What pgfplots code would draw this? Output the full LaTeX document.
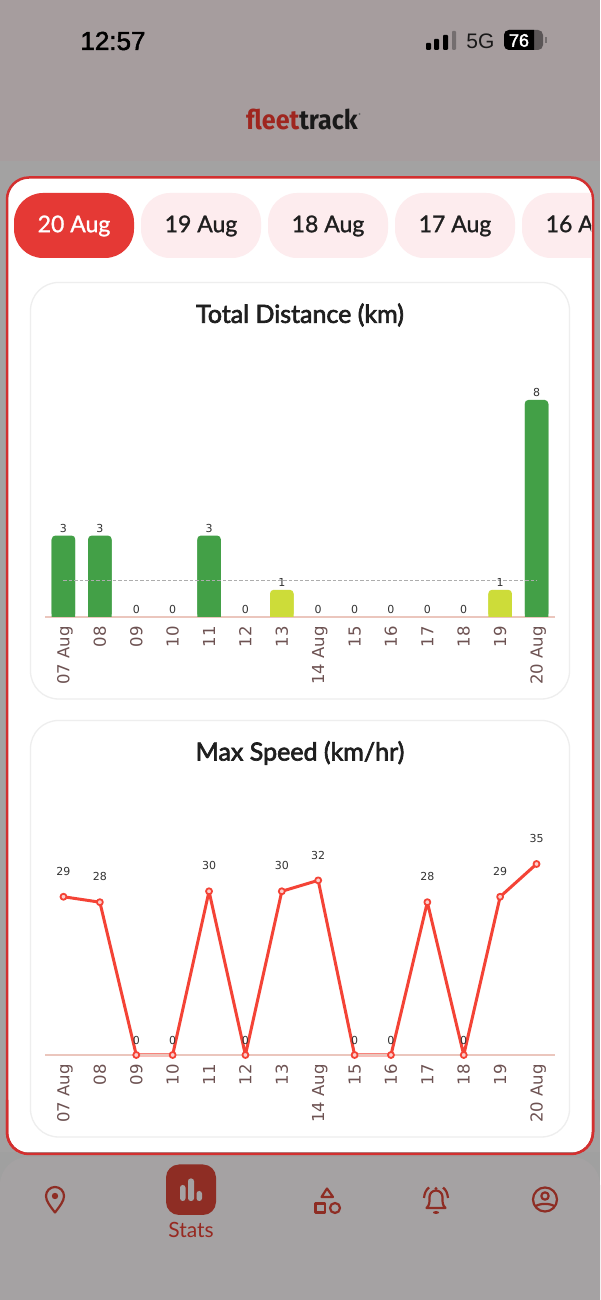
\documentclass[border=0pt]{standalone}
\usepackage{pgfplots}
\pgfplotsset{compat=1.18}
\usepackage{pgfplotstable}
\usepackage{fontspec}
\setmainfont{Lato}
\newfontfamily\djv{DejaVu Sans}
\newfontfamily\sys{Liberation Sans}
\newfontfamily\sysb[FakeBold=2]{Liberation Sans}
\newfontfamily\ttl[FakeBold=2.6]{Lato}
\newfontfamily\pill[FakeBold=1.2]{Lato}
\newfontfamily\logo[FakeStretch=0.93]{Fira Sans Bold}
\definecolor{topbg}{HTML}{A69D9E}
\definecolor{midbg}{HTML}{A3A2A2}
\definecolor{navbg}{HTML}{A5A2A3}
\definecolor{cardred}{HTML}{D32F2F}
\definecolor{pillred}{HTML}{E53935}
\definecolor{pillpink}{HTML}{FDECEE}
\definecolor{cardln}{HTML}{EEEEEE}
\definecolor{navred}{HTML}{8E2D24}
\definecolor{barg}{HTML}{43A047}
\definecolor{bary}{HTML}{CDDC39}
\definecolor{ticktxt}{HTML}{6D5252}
\definecolor{baseln}{HTML}{EBC6BD}
\definecolor{linered}{HTML}{F44336}
\definecolor{lbl}{HTML}{333333}

\pgfplotstableread{
x y
0 3
1 3
2 0
3 0
4 3
5 0
6 1
7 0
8 0
9 0
10 0
11 0
12 1
13 8
}\distall
\pgfplotstableread{
x y
0 3
1 3
4 3
13 8
}\distgreen
\pgfplotstableread{
x y
6 1
12 1
}\distyellow
\pgfplotstableread{
x y
0 1.36
13 1.36
}\distmean
\pgfplotstableread{
x y
0 29
1 28
2 0
3 0
4 30
5 0
6 30
7 32
8 0
9 0
10 28
11 0
12 29
13 35
}\speedall
\pgfplotstableread{
x y
0 29
1 28
4 30
6 30
7 32
10 28
12 29
13 35
}\speedpos
\pgfplotstableread{
x y
2 0
3 0
5 0
8 0
9 0
11 0
}\speedzero

\pgfplotsset{
  chartaxis/.style={
    scale only axis, width=510pt,
    xmin=-0.508, xmax=13.508, ymin=0,
    axis x line=bottom, axis y line=none,
    axis line style={baseln, line width=1.4pt, -},
    xtick={0,1,...,13},
    xticklabels={07 Aug,08,09,10,11,12,13,14 Aug,15,16,17,18,19,20 Aug},
    major tick length=0pt,
    x tick label style={font=\djv\fontsize{16.5}{16.5}\selectfont, text=ticktxt, rotate=90,
      anchor=east, inner sep=0pt, text height=12pt, text depth=0pt, xshift=-9pt},
    clip=false,
    /pgf/number format/assume math mode=true,
  },
  vals/.style={
    nodes near coords,
    nodes near coords align={above},
    every node near coord/.append style={font=\djv\fontsize{11}{11}\selectfont, text=lbl, inner sep=0pt},
  }
}

\begin{document}
\begin{tikzpicture}[x=1pt,y=1pt]
\path[use as bounding box] (0,0) rectangle (600,1300);
\begin{scope}[x=1pt,y=-1pt,yshift=1300pt]
  % screen
  \fill[topbg] (0,0) rectangle (600,161);
  \fill[midbg] (0,161) rectangle (600,1300);
  % status bar
  \node[anchor=center,text=black] at (113,41) {\sysb\fontsize{26}{26}\selectfont 12:57};
  \fill[rounded corners=1pt,black] (426,43) rectangle (431,50);
  \fill[rounded corners=1pt,black] (434,39) rectangle (439,50);
  \fill[rounded corners=1pt,black] (443,35) rectangle (448,50);
  \fill[rounded corners=1pt,black!30!topbg] (452,31) rectangle (456,50);
  \node[anchor=center,text=black!90] at (480.5,41.5) {\sys\fontsize{21}{21}\selectfont 5G};
  \fill[rounded corners=5pt,black!45!topbg] (504,30) rectangle (543,50);
  \begin{scope}
    \clip (504,30) rectangle (534,50);
    \fill[rounded corners=5pt,black] (504,30) rectangle (543,50);
  \end{scope}
  \fill[black!30!topbg] (545,37) rectangle (546.5,43);
  \node[anchor=center,text=white] at (519,40.5) {\sysb\fontsize{18}{18}\selectfont 76};
  % logo
  \node[anchor=center,inner sep=0pt] at (302,120) {\logo\fontsize{27}{27}\selectfont\textcolor{navred!85!red}{fleet}\textcolor{black!90}{track}};
  \fill[black!60] (359.5,114) circle (1.1);
  % main card
  \draw[cardred,line width=2.5pt,fill=white,rounded corners=22pt] (7,177.5) rectangle (593,1154);
  % pills
  \begin{scope}
    \clip (14,190) rectangle (591,262);
    \fill[pillred,rounded corners=29pt] (14,193) rectangle (134,258);
    \foreach \a in {141,268,395,522}{
      \fill[pillpink,rounded corners=29pt] (\a,193) rectangle (\a+120,258);
    }
    \node[text=white] at (74,226) {\pill\fontsize{23}{23}\selectfont 20 Aug};
    \node[text=black!88] at (201,226) {\pill\fontsize{23}{23}\selectfont 19 Aug};
    \node[text=black!88] at (328,226) {\pill\fontsize{23}{23}\selectfont 18 Aug};
    \node[text=black!88] at (455,226) {\pill\fontsize{23}{23}\selectfont 17 Aug};
    \node[text=black!88] at (582,226) {\pill\fontsize{23}{23}\selectfont 16 Aug};
  \end{scope}
  % chart cards
  \draw[cardln,line width=1.3pt,fill=white,rounded corners=28pt] (30.5,282.5) rectangle (569.5,699);
  \draw[cardln,line width=1.3pt,fill=white,rounded corners=28pt] (30.5,720.5) rectangle (569.5,1137);
  \node[text=black!88] at (300,315) {\ttl\fontsize{25}{25}\selectfont Total Distance (km)};
  \node[text=black!88] at (300,753) {\ttl\fontsize{25}{25}\selectfont Max Speed (km/hr)};
  % nav
  \fill[midbg!92!black!90!white] (0,1152) rectangle (600,1300);
  \fill[navbg,rounded corners=28pt] (0,1157) -- (600,1157) -- (600,1340) -- (0,1340) -- cycle;
  \draw[cardred,line width=2.5pt,rounded corners=22pt] (7,1100) -- (7,1154) -- (593,1154) -- (593,1100);
  % icons
  \begin{scope}[navred,line width=2.2pt,line join=round]
    % pin
    \draw (55,1212.5) .. controls (50,1206) and (46,1201) .. (46,1196) arc[start angle=180,end angle=360,radius=9] .. controls (64,1201) and (60,1206) .. (55,1212.5) -- cycle;
    \fill (55,1196) circle (3.2);
    % stats
    \fill[rounded corners=13pt] (166,1164.5) rectangle (216,1215);
    \fill[navbg,rounded corners=2.7pt] (180,1185) rectangle (185.5,1201);
    \fill[navbg,rounded corners=2.7pt] (188,1178.5) rectangle (194,1201);
    \fill[navbg,rounded corners=2.7pt] (196.5,1191) rectangle (202,1201);
    % shapes
    \draw (327,1188.5) -- (321.5,1197) -- (333,1197) -- cycle;
    \draw (315.5,1203.5) rectangle (325,1212.5);
    \draw (335,1208) circle (5);
    % bell
    \draw (426.5,1208) .. controls (430,1205) and (429.5,1201) .. (429.5,1197) arc[start angle=180,end angle=360,radius=6.5] .. controls (442.5,1201) and (442,1205) .. (445.5,1208) -- cycle;
    \fill (436,1188.5) circle (1.6);
    \fill (436,1212.5) ellipse (3 and 1.4);
    \draw (424,1198) .. controls (424.5,1193) and (426,1190) .. (429,1187.5);
    \draw (448,1198) .. controls (447.5,1193) and (446,1190) .. (443,1187.5);
    % person
    \draw (545,1199.5) circle (12);
    \draw (545,1196) circle (3.7);
    \draw (535.5,1206.5) .. controls (539,1203) and (551,1203) .. (554.5,1206.5);
  \end{scope}
  \node[text=navred!92!red] at (191,1229.5) {\rmfamily\fontsize{21}{21}\selectfont Stats};
\end{scope}

% ---- Total Distance ----
\begin{axis}[chartaxis, at={(45pt,683pt)}, anchor=south west, height=217pt, ymax=8]
  \addplot[ybar, bar width=23.5pt, bar shift=0pt, draw=none, fill=barg, rounded corners=3.5pt] table[x=x,y=y] {\distgreen};
  \addplot[ybar, bar width=23.5pt, bar shift=0pt, draw=none, fill=barg] table[x=x,y expr=\thisrow{y}-0.15] {\distgreen};
  \addplot[ybar, bar width=23.5pt, bar shift=0pt, draw=none, fill=bary, rounded corners=3.5pt] table[x=x,y=y] {\distyellow};
  \addplot[ybar, bar width=23.5pt, bar shift=0pt, draw=none, fill=bary] table[x=x,y expr=\thisrow{y}-0.15] {\distyellow};
  \addplot[black!32, line width=1.2pt, dash pattern=on 3.5pt off 2pt] table[x=x,y=y] {\distmean};
  \addplot[draw=none, mark=none, vals, every node near coord/.append style={yshift=3pt}] table[x=x,y=y] {\distall};
\end{axis}

% ---- Max Speed ----
\begin{axis}[chartaxis, at={(45pt,245pt)}, anchor=south west, height=191pt, ymax=35, axis on top]
  \addplot[linered, line width=3pt, line join=round, mark=*, mark size=3pt,
     mark options={fill=white!75!linered, draw=linered, line width=1.8pt}] table[x=x,y=y] {\speedall};
  \addplot[draw=none, mark=none, vals, every node near coord/.append style={yshift=21pt}] table[x=x,y=y] {\speedpos};
  \addplot[draw=none, mark=none, vals, every node near coord/.append style={yshift=10pt}] table[x=x,y=y] {\speedzero};
\end{axis}
\end{tikzpicture}
\end{document}
